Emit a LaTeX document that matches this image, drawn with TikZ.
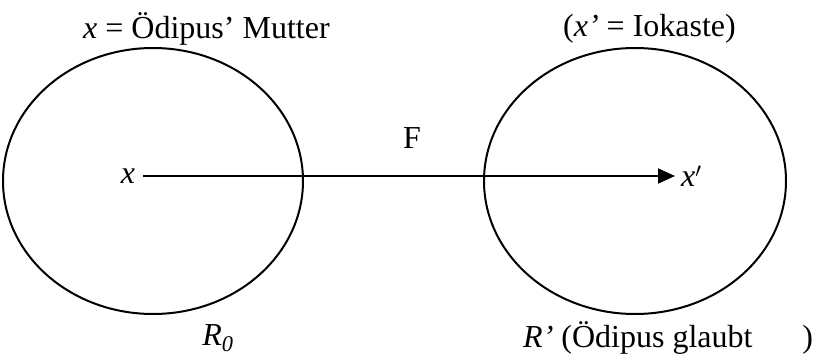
\documentclass[tikz,border=0pt]{standalone}
\usepackage{fontspec}
\setmainfont{Liberation Serif}
\usetikzlibrary{arrows.meta}
\begin{document}
\begin{tikzpicture}[x=1pt,y=-1pt,
  lbl/.style={inner sep=0pt,font=\fontsize{32}{36}\selectfont},
  region/.style={draw,line width=2pt},
  conn/.style={line width=2pt,-{Triangle[length=17pt,width=15pt]}}]
\useasboundingbox (0,0) rectangle (823,356);
\draw[region] (153,181) ellipse [x radius=150,y radius=133];
\draw[region] (635,181) ellipse [x radius=151,y radius=133];
\node[lbl,anchor=west] (tl) at (83,29) {\textit{x} = Ödipus’ Mutter};
\node[lbl,anchor=west] (tr) at (563,29) {(\textit{x’} = Iokaste)};
\node[lbl] (x) at (128,176) {\textit{x}};
\node[lbl,anchor=west] (xp) at (681,176) {\textit{x}$'$};
\node[lbl] (F) at (412,138) {F};
\node[lbl] (R0) at (218,338) {\textit{R\textsubscript{0}}};
\node[lbl,anchor=west] (Rp) at (523,338) {\textit{R’} (Ödipus glaubt\hspace{50pt})};
\draw[conn] (x.east) ++(8,0) coordinate (xs) -- ([xshift=-6pt]xp.west);
\end{tikzpicture}
\end{document}
